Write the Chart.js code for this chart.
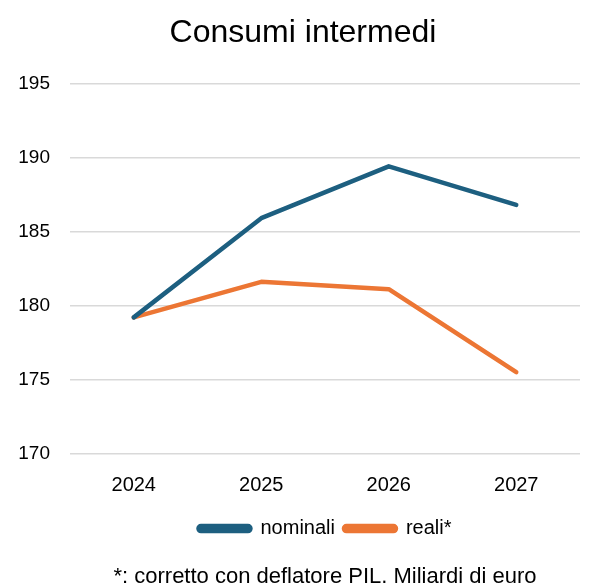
<!DOCTYPE html>
<html>
<head>
<meta charset="utf-8">
<script src="https://cdn.jsdelivr.net/npm/chart.js@4"></script>
<style>
  html, body { margin: 0; padding: 0; background: #fff; }
  #wrap { width: 599px; height: 587px; position: relative; }
</style>
</head>
<body>
<div id="wrap"><canvas id="chart"></canvas></div>
<script>
// Chart data
const years = ["2024", "2025", "2026", "2027"];
const nominali = [179.2, 185.9, 189.4, 186.8];
const reali = [179.2, 181.6, 181.1, 175.5];
const yTicks = [170, 175, 180, 185, 190, 195];

const FONT = "'Liberation Sans', sans-serif";

// move the title block a little to the right, like in the original picture
const shiftTitle = {
  id: "shiftTitle",
  afterLayout(chart){
    if (chart.titleBlock) chart.titleBlock.left += 26;
  }
};

document.addEventListener("DOMContentLoaded", function(){

  const ctx = document.getElementById("chart").getContext("2d");

  new Chart(ctx, {
    type: "line",
    data: {
      labels: years,
      datasets: [
        {
          label: "nominali",
          data: nominali,
          borderColor: "#1d5f80",
          backgroundColor: "#1d5f80",
          borderWidth: 4.5,
          borderCapStyle: "round",
          borderJoinStyle: "round",
          pointRadius: 0,
          tension: 0
        },
        {
          label: "reali*",
          data: reali,
          borderColor: "#ec7634",
          backgroundColor: "#ec7634",
          borderWidth: 4.5,
          borderCapStyle: "round",
          borderJoinStyle: "round",
          pointRadius: 0,
          tension: 0
        }
      ]
    },
    options: {
      responsive: true,
      maintainAspectRatio: false,
      animation: false,
      layout: { padding: { left: 0, right: 19, top: 0, bottom: 0 } },
      plugins: {
        title: {
          display: true,
          text: "Consumi intermedi",
          color: "#000",
          font: { family: FONT, size: 32, weight: "normal" },
          padding: { top: 14, bottom: 31 }
        },
        subtitle: {
          display: true,
          position: "bottom",
          fullSize: false,
          text: "*: corretto con deflatore PIL. Miliardi di euro",
          color: "#000",
          font: { family: FONT, size: 22 },
          padding: { top: 15, bottom: -3 }
        },
        legend: {
          position: "bottom",
          fullSize: false,
          labels: {
            color: "#000",
            font: { family: FONT, size: 20 },
            boxWidth: 52,
            boxHeight: 5,
            useBorderRadius: true,
            borderRadius: 2.5,
            padding: 9
          }
        },
        tooltip: { enabled: false }
      },
      scales: {
        x: {
          offset: true,
          grid: { display: false },
          border: { display: false },
          ticks: {
            color: "#000",
            font: { family: FONT, size: 20 },
            padding: 12
          }
        },
        y: {
          min: yTicks[0],
          max: yTicks[yTicks.length - 1],
          afterBuildTicks: function(axis){
            axis.ticks = yTicks.map(v => ({ value: v }));
          },
          afterFit: function(axis){
            axis.width = 70;
          },
          grid: { color: "#d9d9d9", lineWidth: 1.5, drawTicks: false },
          border: { display: false },
          ticks: {
            color: "#000",
            font: { family: FONT, size: 19 },
            padding: 20
          }
        }
      }
    },
    plugins: [shiftTitle]
  });

});
</script>
</body>
</html>
